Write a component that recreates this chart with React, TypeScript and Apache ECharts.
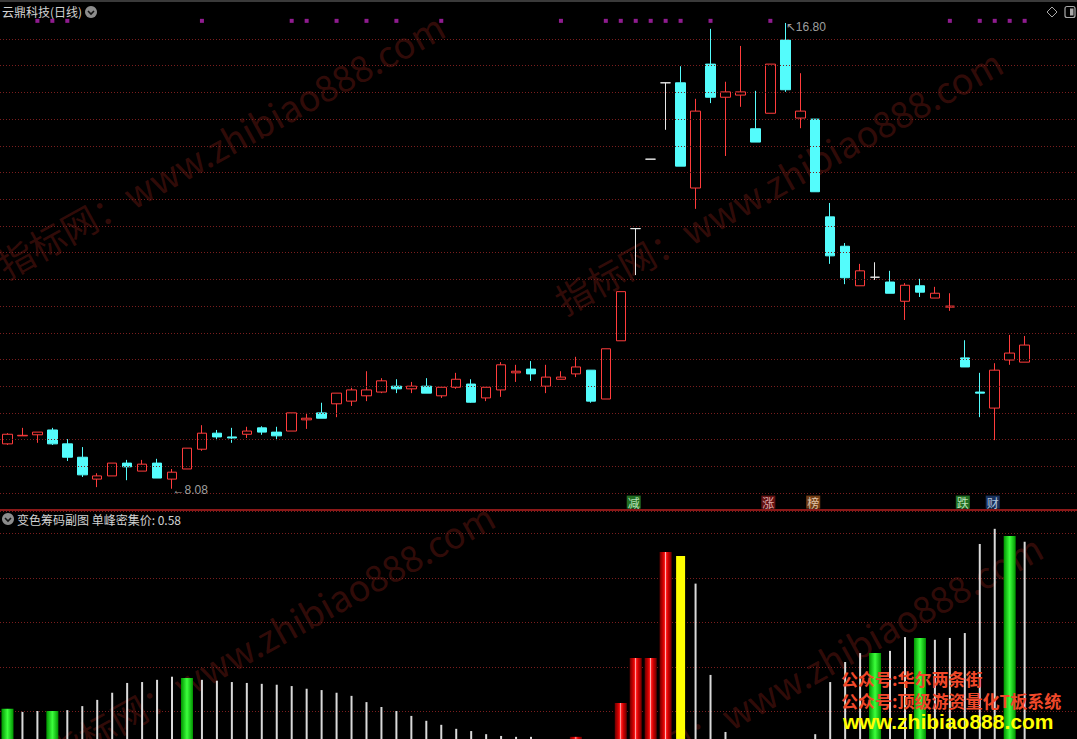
import React, { useEffect, useRef } from "react";
import * as echarts from "echarts";

// ---------------- data ----------------
const stockTitle = "云鼎科技(日线)";
const subTitle = "变色筹码副图 单峰密集价: 0.58";

const opens = [
  8.92, 9.07, 9.09, 9.18, 8.92, 8.67, 8.26, 8.32, 8.56, 8.41,
  8.56, 8.26, 8.45, 8.82, 9.12, 9.05, 9.10, 9.22, 9.14, 9.16,
  9.37, 9.50, 9.67, 9.72, 9.82, 9.89, 10.00, 9.95, 10.00, 9.82,
  9.98, 10.04, 9.78, 9.93, 10.25, 10.32, 10.00, 10.13, 10.23, 10.30,
  9.76, 10.85, 12.95, 14.25, 15.68, 15.68, 13.71, 16.03, 15.41, 15.45,
  14.82, 15.11, 16.48, 15.02, 15.00, 13.17, 12.62, 11.88, 12.04, 11.95,
  11.59, 11.88, 11.65, 11.48, 10.53, 9.89, 9.59, 10.49, 10.45,
];
const closes = [
  9.10, 9.08, 9.14, 8.92, 8.67, 8.34, 8.32, 8.56, 8.49, 8.54,
  8.28, 8.39, 8.84, 9.12, 9.05, 9.03, 9.16, 9.14, 9.07, 9.50,
  9.40, 9.40, 9.87, 9.93, 9.93, 10.10, 9.95, 10.00, 9.87, 9.98,
  10.13, 9.70, 9.98, 10.40, 10.28, 10.23, 10.17, 10.17, 10.36, 9.72,
  10.70, 11.77, 12.95, 14.25, 15.68, 14.12, 15.15, 15.41, 15.51, 15.51,
  14.57, 16.03, 15.55, 15.15, 13.64, 12.44, 12.03, 12.16, 12.04, 11.74,
  11.89, 11.76, 11.74, 11.50, 10.36, 9.87, 10.30, 10.62, 10.77,
];
const lows = [
  8.90, 9.07, 8.94, 8.90, 8.60, 8.30, 8.11, 8.32, 8.24, 8.41,
  8.28, 8.08, 8.45, 8.79, 8.99, 8.94, 9.03, 9.09, 8.99, 9.16,
  9.20, 9.40, 9.42, 9.63, 9.72, 9.87, 9.87, 9.87, 9.87, 9.78,
  9.95, 9.69, 9.72, 9.80, 10.08, 10.10, 9.87, 10.13, 10.17, 9.69,
  9.76, 10.85, 12.08, 14.25, 14.80, 14.12, 13.32, 15.30, 14.31, 15.23,
  14.57, 15.11, 15.51, 14.83, 13.64, 12.29, 11.91, 11.88, 11.99, 11.74,
  11.24, 11.67, 11.65, 11.41, 10.36, 9.42, 8.99, 10.40, 10.45,
];
const highs = [
  9.12, 9.22, 9.14, 9.22, 9.01, 8.86, 8.37, 8.56, 8.62, 8.62,
  8.64, 8.45, 8.84, 9.27, 9.18, 9.22, 9.24, 9.25, 9.24, 9.50,
  9.50, 9.69, 9.87, 9.97, 10.28, 10.15, 10.13, 10.08, 10.15, 9.98,
  10.25, 10.13, 9.98, 10.45, 10.40, 10.47, 10.40, 10.28, 10.55, 10.30,
  10.70, 11.77, 12.95, 14.25, 15.68, 15.99, 15.38, 16.69, 15.70, 16.37,
  15.53, 16.03, 16.80, 15.86, 15.00, 13.43, 12.68, 12.29, 12.32, 12.16,
  11.93, 12.01, 11.86, 11.74, 10.86, 10.25, 10.43, 10.96, 10.94,
];

// sub-chart (chip) values and their colour class: w white, g green, r red, y yellow
const chipValues = [
  1.06, 0.99, 1.01, 1.01, 1.03, 1.12, 1.26, 1.42, 1.64, 1.66,
  1.71, 1.78, 1.75, 1.71, 1.69, 1.66, 1.64, 1.62, 1.60, 1.57,
  1.51, 1.48, 1.42, 1.35, 1.21, 1.10, 1.01, 0.90, 0.79, 0.70,
  0.61, 0.56, 0.49, 0.45, 0.43, 0.43, 0.30, 0.30, 0.43, 0.30,
  0.30, 1.19, 2.20, 2.20, 4.58, 4.49, 3.87, 1.82, 0.54, 0.30,
  0.30, 0.30, 0.30, 0.30, 0.49, 1.66, 2.11, 2.31, 2.31, 2.36,
  2.67, 2.65, 2.61, 2.65, 2.76, 4.76, 5.10, 4.94, 4.81,
];
const chipTypes = [
  "g", "w", "w", "g", "w", "w", "w", "w", "w", "w",
  "w", "w", "g", "w", "w", "w", "w", "w", "w", "w",
  "w", "w", "w", "w", "w", "w", "w", "w", "w", "w",
  "w", "w", "w", "w", "w", "w", "w", "w", "r", "w",
  "w", "r", "r", "r", "r", "y", "w", "w", "w", "w",
  "w", "w", "w", "w", "w", "w", "w", "w", "g", "w",
  "w", "g", "w", "w", "w", "w", "w", "g", "w",
];

const dotIdx = [2, 3, 4, 13, 19, 20, 22, 24, 26, 29, 37, 40, 41, 42, 43, 44, 45, 47, 51, 63, 65, 66, 67, 68];
const dotLevel = 16.84;
const signalIdx = [42, 51, 54, 64, 66];
const signalText = ["减", "涨", "榜", "跌", "财"];
const signalLevel = 7.83;
const priceGridLines = [8, 8.5, 9, 9.5, 10, 10.5, 11, 11.5, 12, 12.5, 13, 13.5, 14, 14.5, 15, 15.5, 16, 16.5];

const SLOT_COUNT = 72;
const slots = Array.from({ length: SLOT_COUNT }, (_, i) => "D" + (i + 1));

// ---------------- styles ----------------
const CYAN = "#54FCFC";
const RED = "#FF3C3C";
const WHITE = "#E8E8E8";
const GRID_RED = "#7A1E1E";
const signalBg = ["#2A8A2A", "#7A1616", "#8E4E1C", "#2A8A2A", "#1E3C70"];
const signalFg = ["#DDFFDD", "#FFD0D0", "#FFE8D0", "#DDFFDD", "#D8E8FF"];
const CJK = '"Noto Sans CJK SC", sans-serif';
const NUM = '"Liberation Sans", "DejaVu Sans", sans-serif';

const greenGrad = {
  type: "linear", x: 0, y: 0, x2: 1, y2: 0,
  colorStops: [
    { offset: 0, color: "#009400" },
    { offset: 0.5, color: "#3CFF3C" },
    { offset: 1, color: "#009400" },
  ],
};
const redGrad = {
  type: "linear", x: 0, y: 0, x2: 1, y2: 0,
  colorStops: [
    { offset: 0, color: "#6A0000" },
    { offset: 0.3, color: "#D40000" },
    { offset: 0.44, color: "#FF2020" },
    { offset: 0.5, color: "#FFD8D8" },
    { offset: 0.56, color: "#FF2020" },
    { offset: 0.7, color: "#D40000" },
    { offset: 1, color: "#6A0000" },
  ],
};

function watermark(x: number, y: number) {
  return {
    type: "text",
    x,
    y,
    rotation: (29 * Math.PI) / 180,
    z: 0,
    silent: true,
    style: {
      text: "指标网：www.zhibiao888.com",
      fill: "rgba(130,30,22,0.4)",
      font: "36px " + CJK,
      align: "left",
      verticalAlign: "bottom",
    },
  };
}

function dropIcon(cx: number, cy: number) {
  return {
    type: "group",
    z: 60,
    children: [
      { type: "circle", shape: { cx, cy, r: 6 }, style: { fill: "#8C8C8C" } },
      {
        type: "polyline",
        shape: { points: [[cx - 3, cy - 1], [cx, cy + 2], [cx + 3, cy - 1]] },
        style: { stroke: "#111", lineWidth: 1.6, fill: null },
      },
    ],
  };
}

export default function App() {
  const ref = useRef<HTMLDivElement>(null);

  useEffect(() => {
    if (!ref.current) return;
    const chart = echarts.init(ref.current, null, { renderer: "svg" });

    const candleData = opens.map((o, i) => {
      const item: any = { value: [o, closes[i], lows[i], highs[i]] };
      if (o === closes[i]) {
        item.itemStyle = {
          color: WHITE, color0: WHITE, borderColor: WHITE, borderColor0: WHITE, borderColorDoji: WHITE,
        };
      }
      return item;
    });

    let hiIdx = 0;
    let loIdx = 0;
    highs.forEach((h, i) => { if (h > highs[hiIdx]) hiIdx = i; });
    lows.forEach((l, i) => { if (l < lows[loIdx]) loIdx = i; });

    const whiteBars = chipValues.map((v, i) => (chipTypes[i] === "w" ? v : "-"));
    const wideBars = chipValues.map((v, i) => {
      if (chipTypes[i] === "g") return { value: v, itemStyle: { color: greenGrad } };
      if (chipTypes[i] === "r") return { value: v, itemStyle: { color: redGrad } };
      return "-";
    });
    const yellowBars = chipValues.map((v, i) => (chipTypes[i] === "y" ? v : "-"));

    const hiddenCat = (gridIndex: number) => ({
      type: "category",
      gridIndex,
      data: slots,
      boundaryGap: true,
      show: false,
    });

    const option: any = {
      animation: false,
      backgroundColor: "#000000",
      grid: [
        { left: 0, right: 0, top: 12.3, height: 497.8 },
        { left: 0, right: 0, top: 511, height: 245 },
      ],
      xAxis: [hiddenCat(0), hiddenCat(1), hiddenCat(1), hiddenCat(1)],
      yAxis: [
        { type: "value", gridIndex: 0, min: 7.68, max: 17.0, show: false, splitLine: { show: false } },
        {
          type: "value", gridIndex: 1, min: 0, max: 5.5, interval: 1,
          axisLine: { show: false }, axisTick: { show: false }, axisLabel: { show: false },
          splitLine: { show: true, lineStyle: { color: GRID_RED, type: [1, 2], width: 1 } },
        },
      ],
      series: [
        {
          type: "scatter",
          name: "dots",
          xAxisIndex: 0,
          yAxisIndex: 0,
          z: 1,
          symbol: "rect",
          symbolSize: 4,
          itemStyle: { color: "#B423B4" },
          data: dotIdx.map((i) => [i, dotLevel]),
          silent: true,
          markLine: {
            silent: true,
            symbol: ["none", "none"],
            label: { show: false },
            lineStyle: { color: GRID_RED, type: [1, 2], width: 1 },
            data: priceGridLines.map((v) => ({ yAxis: v })),
          },
        },
        {
          type: "candlestick",
          name: "K",
          xAxisIndex: 0,
          yAxisIndex: 0,
          z: 3,
          barWidth: 10,
          itemStyle: {
            color: "#000000",
            color0: CYAN,
            borderColor: RED,
            borderColor0: CYAN,
            borderColorDoji: WHITE,
            borderWidth: 1,
          },
          data: candleData,
        },
        {
          type: "scatter",
          name: "extremes",
          xAxisIndex: 0,
          yAxisIndex: 0,
          z: 5,
          symbolSize: 1,
          itemStyle: { color: "rgba(0,0,0,0)" },
          label: {
            show: true,
            position: "right",
            distance: 0,
            color: "#C8C8C8",
            fontSize: 12,
            fontFamily: NUM,
          },
          data: [
            { value: [hiIdx, highs[hiIdx]], label: { formatter: "↖" + highs[hiIdx].toFixed(2), offset: [0, 4] } },
            { value: [loIdx, lows[loIdx]], label: { formatter: "←" + lows[loIdx].toFixed(2), offset: [0, 1] } },
          ],
        },
        {
          type: "scatter",
          name: "signals",
          xAxisIndex: 0,
          yAxisIndex: 0,
          z: 5,
          symbolSize: 1,
          itemStyle: { color: "rgba(0,0,0,0)" },
          label: {
            show: true,
            position: "inside",
            fontSize: 12,
            fontFamily: CJK,
            padding: [1, 1, 0, 1],
            offset: [-2, 0],
          },
          data: signalIdx.map((idx, k) => ({
            value: [idx, signalLevel],
            label: { formatter: signalText[k], backgroundColor: signalBg[k], color: signalFg[k] },
          })),
        },
        {
          type: "bar",
          name: "chipWhite",
          xAxisIndex: 1,
          yAxisIndex: 1,
          barWidth: 2,
          itemStyle: { color: "#DADADA" },
          data: whiteBars,
        },
        {
          type: "bar",
          name: "chipWide",
          xAxisIndex: 2,
          yAxisIndex: 1,
          barWidth: 12,
          data: wideBars,
        },
        {
          type: "bar",
          name: "chipYellow",
          xAxisIndex: 3,
          yAxisIndex: 1,
          barWidth: 9,
          itemStyle: { color: "#FFFF00" },
          data: yellowBars,
        },
      ],
      graphic: [
        watermark(8, 282),
        watermark(566, 318),
        watermark(58, 772),
        watermark(606, 803),
        { type: "rect", z: 60, shape: { x: 0, y: 0, width: 1077, height: 2 }, style: { fill: "#3A3A3A" } },
        {
          type: "text", x: 2, y: 11.5, z: 60,
          style: { text: stockTitle, fill: "#D2D2D2", font: "12px " + CJK, align: "left", verticalAlign: "middle" },
        },
        dropIcon(91, 12),
        {
          type: "polygon", z: 60,
          shape: { points: [[1052, 7], [1057, 12], [1052, 17], [1047, 12]] },
          style: { stroke: "#A8A8A8", fill: null, lineWidth: 1 },
        },
        {
          type: "rect", z: 60,
          shape: { x: 1065, y: 6.5, width: 10, height: 11, r: 2 },
          style: { stroke: "#A8A8A8", fill: null, lineWidth: 1.2 },
        },
        { type: "rect", z: 60, shape: { x: 1070, y: 8.5, width: 3.5, height: 7 }, style: { fill: "#A8A8A8" } },
        {
          type: "line", z: 50,
          shape: { x1: 0, y1: 510, x2: 1077, y2: 510 },
          style: { stroke: "#8A1818", lineWidth: 2 },
        },
        dropIcon(8, 519),
        {
          type: "text", x: 17, y: 519, z: 60,
          style: { text: subTitle, fill: "#D2D2D2", font: "12px " + CJK, align: "left", verticalAlign: "middle" },
        },
        {
          type: "text", x: 841, y: 678, z: 100,
          style: { text: "公众号:华尔两条街", fill: "#F0482A", font: "bold 17px " + CJK, align: "left", verticalAlign: "middle" },
        },
        {
          type: "text", x: 841, y: 700, z: 100,
          style: { text: "公众号:顶级游资量化T板系统", fill: "#F0482A", font: "bold 17px " + CJK, align: "left", verticalAlign: "middle" },
        },
        {
          type: "text", x: 843, y: 721, z: 100,
          style: { text: "www.zhibiao888.com", fill: "#FFFF00", font: "bold 21px " + NUM, align: "left", verticalAlign: "middle" },
        },
      ],
    };

    chart.setOption(option);
    return () => chart.dispose();
  }, []);

  return (
    <div
      ref={ref}
      style={{ position: "fixed", left: 0, top: 0, width: "1077px", height: "760px", background: "#000" }}
    />
  );
}
